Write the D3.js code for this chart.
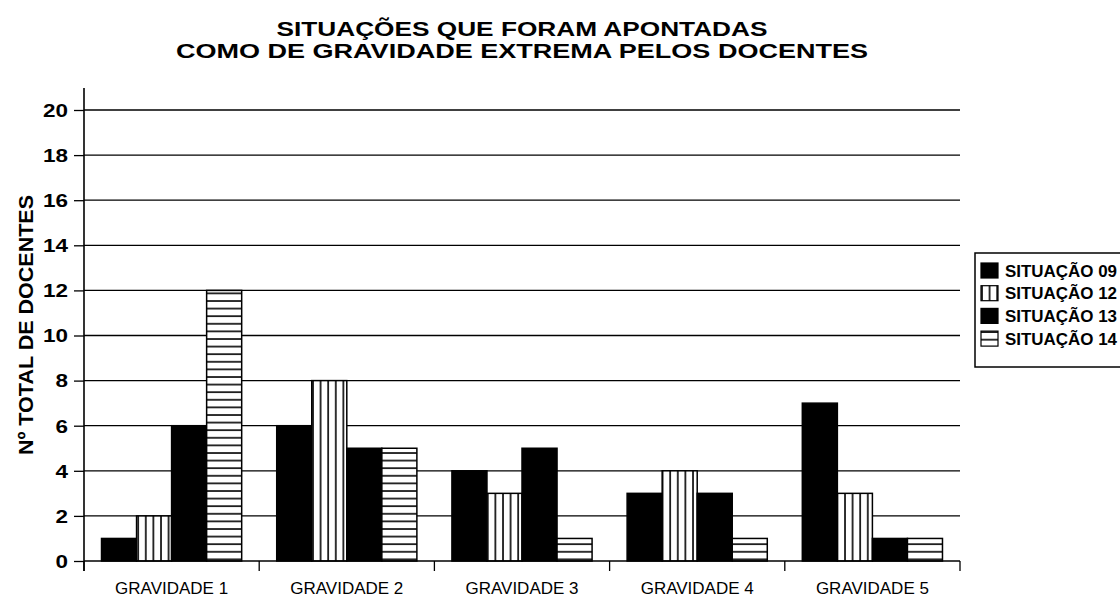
<!DOCTYPE html>
<html>
<head>
<meta charset="utf-8">
<script src="https://cdn.jsdelivr.net/npm/d3@7"></script>
<style>
  body{margin:0;background:#fff;}
  text{font-family:"Liberation Sans",Arial,Helvetica,sans-serif;fill:#000;}
</style>
</head>
<body>
<div id="chart"></div>
<script>
// categories and series
const categories=[`GRAVIDADE 1`,`GRAVIDADE 2`,`GRAVIDADE 3`,`GRAVIDADE 4`,`GRAVIDADE 5`];
const seriesNames=[`SITUAÇÃO 09`,`SITUAÇÃO 12`,`SITUAÇÃO 13`,`SITUAÇÃO 14`];
const sit09=[1,6,4,3,7];
const sit12=[2,8,3,4,3];
const sit13=[6,5,5,3,1];
const sit14=[12,5,1,1,1];
const yTicks=[0,2,4,6,8,10,12,14,16,18,20];
const titleLines=[`SITUAÇÕES QUE FORAM APONTADAS`,`COMO DE GRAVIDADE EXTREMA PELOS DOCENTES`];
const yLabel=`Nº TOTAL DE DOCENTES`;

const series=[sit09,sit12,sit13,sit14];
const fills=[`#000`,`url(#vstripe)`,`#000`,`url(#hstripe)`];

const format={width:1120,height:596,margin:{top:110,right:160,bottom:35,left:84}};
const width=format.width-format.margin.left-format.margin.right;
const height=format.height-format.margin.top-format.margin.bottom;

let svg=d3.select(`#chart`).append(`svg`)
  .attr(`width`,format.width)
  .attr(`height`,format.height);

svg.append(`rect`).attr(`width`,format.width).attr(`height`,format.height).attr(`fill`,`#fff`);

// hatch patterns
let defs=svg.append(`defs`);
let vp=defs.append(`pattern`).attr(`id`,`vstripe`).attr(`patternUnits`,`userSpaceOnUse`)
  .attr(`width`,7.6).attr(`height`,10);
vp.append(`rect`).attr(`width`,7.6).attr(`height`,10).attr(`fill`,`#fff`);
vp.append(`line`).attr(`x1`,1).attr(`x2`,1).attr(`y1`,0).attr(`y2`,10).attr(`stroke`,`#000`).attr(`stroke-width`,1.6);
let hp=defs.append(`pattern`).attr(`id`,`hstripe`).attr(`patternUnits`,`userSpaceOnUse`)
  .attr(`width`,10).attr(`height`,7.6);
hp.append(`rect`).attr(`width`,10).attr(`height`,7.6).attr(`fill`,`#fff`);
hp.append(`line`).attr(`x1`,0).attr(`x2`,10).attr(`y1`,1).attr(`y2`,1).attr(`stroke`,`#000`).attr(`stroke-width`,1.6);

// title (font in the scan is wider, so stretch to its measured width)
const titleWidths=[491,692];
svg.append(`g`).selectAll(`text`).data(titleLines).enter().append(`text`)
  .attr(`x`,522).attr(`y`,(d,i)=>36+i*21.5)
  .attr(`text-anchor`,`middle`)
  .attr(`font-size`,21).attr(`font-weight`,`bold`)
  .attr(`textLength`,(d,i)=>titleWidths[i]).attr(`lengthAdjust`,`spacingAndGlyphs`)
  .text(d=>d);

let graph=svg.append(`g`)
  .attr(`transform`,`translate(${format.margin.left},${format.margin.top})`);

let x=d3.scaleBand().domain(categories).range([0,width]).paddingInner(0).paddingOuter(0);
let xs=d3.scaleBand().domain(d3.range(series.length)).range([0,x.bandwidth()]).paddingOuter(0.5).paddingInner(0);
let y=d3.scaleLinear().domain([0,20]).range([height,0]);

// gridlines
graph.append(`g`).selectAll(`line`).data(yTicks.filter(t=>t>0)).enter().append(`line`)
  .attr(`x1`,0).attr(`x2`,width)
  .attr(`y1`,d=>y(d)).attr(`y2`,d=>y(d))
  .attr(`stroke`,`#000`).attr(`stroke-width`,1.3);

// bars
series.forEach((vals,s)=>{
  graph.append(`g`).selectAll(`rect`).data(vals).enter().append(`rect`)
    .attr(`x`,(d,i)=>x(categories[i])+xs(s))
    .attr(`y`,d=>y(d))
    .attr(`width`,xs.bandwidth())
    .attr(`height`,d=>height-y(d))
    .attr(`fill`,fills[s])
    .attr(`stroke`,`#000`).attr(`stroke-width`,1.5);
});

// y axis
let yAxis=graph.append(`g`)
  .call(d3.axisLeft(y).tickValues(yTicks).tickSize(10).tickPadding(6));
yAxis.select(`.domain`).remove();
yAxis.selectAll(`line`).attr(`stroke-width`,1.3);
yAxis.append(`line`).attr(`x1`,0).attr(`x2`,0).attr(`y1`,-22).attr(`y2`,height+10)
  .attr(`stroke`,`#000`).attr(`stroke-width`,1.6);
yAxis.selectAll(`.tick text`).attr(`font-size`,18).attr(`font-weight`,`bold`)
  .attr(`font-family`,`"Liberation Sans",Arial,sans-serif`).attr(`fill`,`#000`)
  .attr(`dy`,`0.35em`)
  .attr(`textLength`,d=>String(d).length*12.5).attr(`lengthAdjust`,`spacingAndGlyphs`);

// x axis
let xAxis=graph.append(`g`).attr(`transform`,`translate(0,${height})`);
xAxis.append(`line`).attr(`x1`,0).attr(`x2`,width).attr(`stroke`,`#000`).attr(`stroke-width`,1.6);
xAxis.selectAll(`.tick`).data(d3.range(categories.length+1)).enter().append(`line`)
  .attr(`x1`,d=>d*x.bandwidth()).attr(`x2`,d=>d*x.bandwidth())
  .attr(`y1`,0).attr(`y2`,10).attr(`stroke`,`#000`).attr(`stroke-width`,1.3);
xAxis.selectAll(`text`).data(categories).enter().append(`text`)
  .attr(`x`,d=>x(d)+x.bandwidth()/2).attr(`y`,33)
  .attr(`text-anchor`,`middle`).attr(`font-size`,16)
  .attr(`textLength`,113).attr(`lengthAdjust`,`spacingAndGlyphs`)
  .text(d=>d);

// y label
svg.append(`text`)
  .attr(`transform`,`translate(33,325) rotate(-90)`)
  .attr(`text-anchor`,`middle`).attr(`font-size`,20).attr(`font-weight`,`bold`)
  .attr(`textLength`,260).attr(`lengthAdjust`,`spacingAndGlyphs`)
  .text(yLabel);

// legend
let legend=svg.append(`g`).attr(`transform`,`translate(975,253)`);
legend.append(`rect`).attr(`width`,160).attr(`height`,114)
  .attr(`fill`,`#fff`).attr(`stroke`,`#000`).attr(`stroke-width`,1.5);
let rows=legend.selectAll(`g.row`).data(seriesNames).enter().append(`g`)
  .attr(`transform`,(d,i)=>`translate(6,${10+i*22.7})`);
rows.append(`rect`).attr(`width`,17).attr(`height`,15)
  .attr(`fill`,(d,i)=>fills[i]).attr(`stroke`,`#000`).attr(`stroke-width`,1.2);
rows.append(`text`).attr(`x`,24).attr(`y`,13.5)
  .attr(`font-size`,16).attr(`font-weight`,`bold`)
  .attr(`textLength`,112).attr(`lengthAdjust`,`spacingAndGlyphs`)
  .text(d=>d);
</script>
</body>
</html>
